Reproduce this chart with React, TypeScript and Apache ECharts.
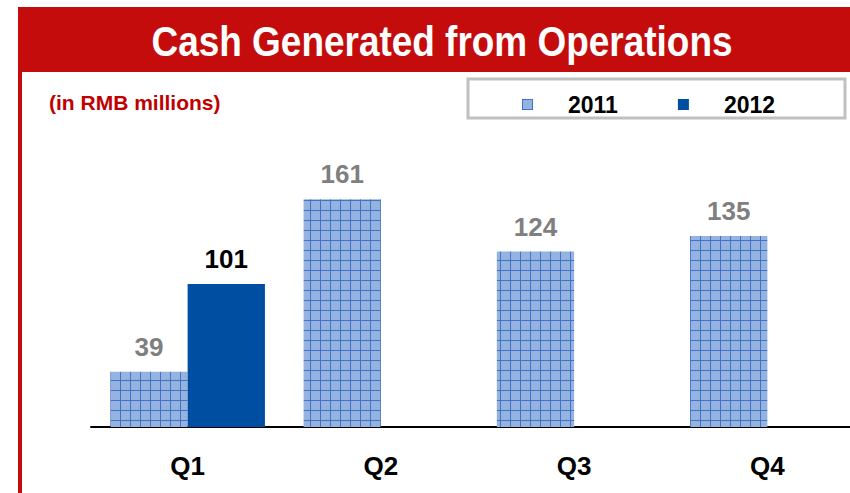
import React, { useEffect, useRef } from "react";
import * as echarts from "echarts";

const categories = ["Q1", "Q2", "Q3", "Q4"];
const series2011 = [39, 161, 124, 135];
const series2012: (number | null)[] = [101, null, null, null];
const seriesNames = ["2011", "2012"];
const titleText = "Cash Generated from Operations";
const subtitleText = "(in RMB millions)";

const FONT = 'Arial, "Liberation Sans", sans-serif';
const RED = "#c40c0c";
const BLUE = "#004ea2";

function makePattern(): HTMLCanvasElement {
  const c = document.createElement("canvas");
  c.width = 10;
  c.height = 10;
  const ctx = c.getContext("2d")!;
  ctx.fillStyle = "#94b3e0";
  ctx.fillRect(0, 0, 10, 10);
  ctx.fillStyle = "#4272c2";
  ctx.fillRect(0, 0, 10, 1);
  ctx.fillRect(0, 0, 1, 10);
  return c;
}

export default function App() {
  const ref = useRef<HTMLDivElement>(null);
  useEffect(() => {
    if (!ref.current) return;
    const chart = echarts.init(ref.current, null, { renderer: "svg" });
    const pattern = makePattern();
    const patternColor: any = { image: pattern, repeat: "repeat" };

    chart.setOption({
      animation: false,
      backgroundColor: "#ffffff",
      graphic: [
        { type: "rect", shape: { x: 18, y: 7, width: 900, height: 65 }, style: { fill: RED }, z: 0 },
        { type: "rect", shape: { x: 18, y: 72, width: 4, height: 421 }, style: { fill: RED }, z: 0 },
        {
          type: "rect",
          shape: { x: 468, y: 79, width: 377, height: 39 },
          style: { fill: "#ffffff", stroke: "#c0c0c0", lineWidth: 3 },
          z: 0,
        },
        {
          type: "text",
          x: 442,
          y: 41,
          scaleX: 0.88,
          style: {
            text: titleText,
            fill: "#ffffff",
            font: `bold 42px ${FONT}`,
            textAlign: "center",
            textVerticalAlign: "middle",
          },
          z: 1,
        },
        {
          type: "text",
          x: 49,
          y: 102,
          style: {
            text: subtitleText,
            fill: "#c00000",
            font: `bold 21px ${FONT}`,
            textAlign: "left",
            textVerticalAlign: "middle",
          },
          z: 1,
        },
      ],
      legend: {
        data: seriesNames,
        left: 517,
        top: 88,
        icon: "rect",
        itemWidth: 11,
        itemHeight: 11,
        itemGap: 60,
        selectedMode: false,
        textStyle: {
          fontFamily: FONT,
          fontWeight: "bold",
          fontSize: 23,
          lineHeight: 22,
          color: "#000000",
          padding: [0, 0, 0, 30],
        },
        z: 5,
      },
      grid: { left: 91, top: 144, width: 773, height: 283 },
      xAxis: {
        type: "category",
        data: categories,
        axisLine: { show: true, lineStyle: { color: "#000000", width: 2 } },
        axisTick: { show: false },
        axisLabel: {
          margin: 26,
          fontFamily: FONT,
          fontWeight: "bold",
          fontSize: 26,
          color: "#000000",
        },
      },
      yAxis: {
        type: "value",
        min: 0,
        max: 200,
        show: false,
        splitLine: { show: false },
      },
      series: [
        {
          name: seriesNames[0],
          type: "bar",
          data: series2011,
          barCategoryGap: "20%",
          barGap: "0%",
          itemStyle: { color: patternColor },
          label: {
            show: true,
            position: "top",
            distance: 12,
            fontFamily: FONT,
            fontWeight: "bold",
            fontSize: 26,
            color: "#7f7f7f",
          },
        },
        {
          name: seriesNames[1],
          type: "bar",
          data: series2012,
          barCategoryGap: "20%",
          barGap: "0%",
          itemStyle: { color: BLUE },
          label: {
            show: true,
            position: "top",
            distance: 12,
            fontFamily: FONT,
            fontWeight: "bold",
            fontSize: 26,
            color: "#000000",
          },
        },
      ],
    });
    return () => chart.dispose();
  }, []);
  return (
    <div
      style={{ position: "fixed", left: 0, top: 0, width: 850, height: 493, overflow: "hidden" }}
    >
      <div ref={ref} style={{ width: 880, height: 493 }} />
    </div>
  );
}
